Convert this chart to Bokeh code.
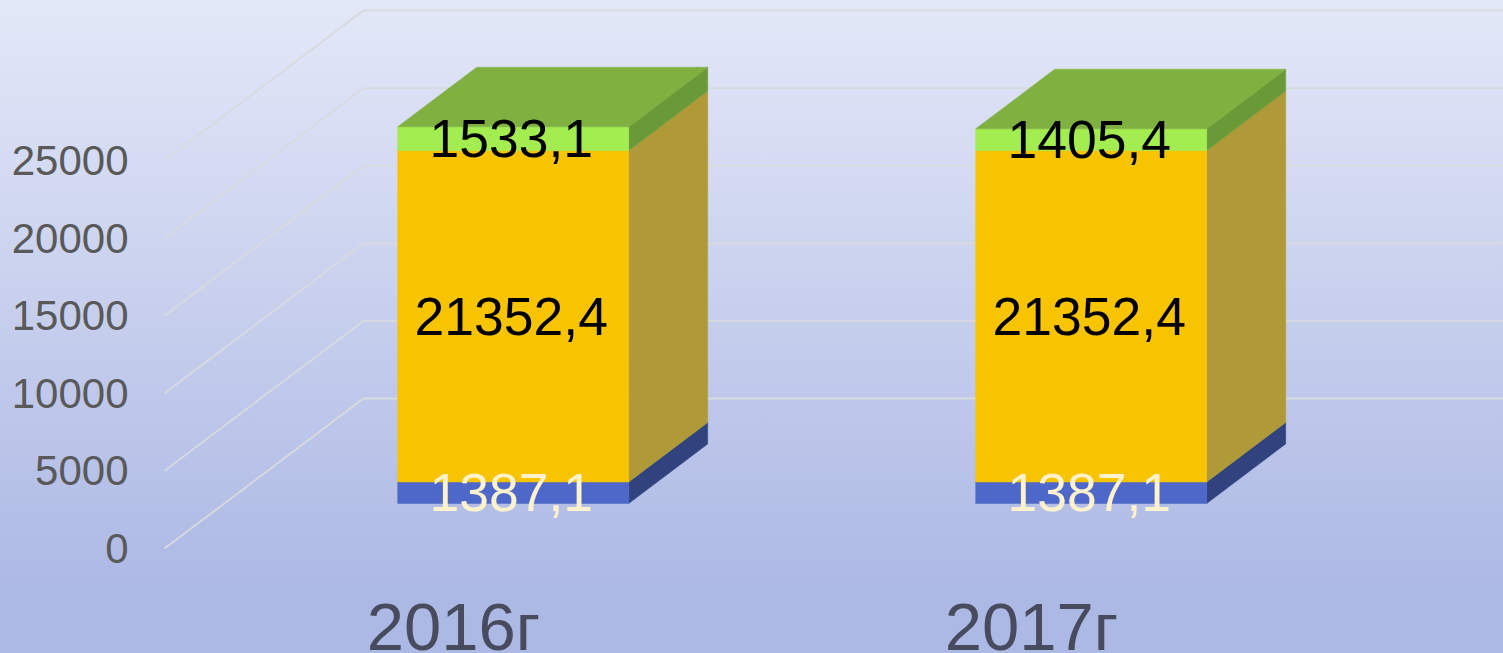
from bokeh.plotting import figure
from bokeh.models import FixedTicker, ColumnDataSource
from bokeh.core.properties import value
from bokeh.embed import file_html
from bokeh.resources import INLINE

categories = ["2016г", "2017г"]
series_blue = [1387.1, 1387.1]
series_yellow = [21352.4, 21352.4]
series_green = [1533.1, 1405.4]
y_ticks = [0, 5000, 10000, 15000, 20000, 25000]

FONT = "Liberation Sans"
W, H = 1503, 653
FRAME_L = 140
Y0_PX, PX_PER_UNIT = 548, 388 / 25000
X0_PX, PX_PER_CAT = 453, 578

# oblique projection of the 3D box, in data units
WALL_DX = 199 / PX_PER_CAT
WALL_DY = 150 / PX_PER_UNIT
D_FRONT, D_BACK = 0.30, 0.697
BAR_W = 231 / PX_PER_CAT

p = figure(
    width=W, height=H, output_backend="svg", toolbar_location=None,
    x_range=((FRAME_L - X0_PX) / PX_PER_CAT, (W - X0_PX) / PX_PER_CAT),
    y_range=((Y0_PX - H) / PX_PER_UNIT, Y0_PX / PX_PER_UNIT),
    x_axis_location=None,
    min_border_left=FRAME_L, min_border_right=0, min_border_top=0, min_border_bottom=0,
    background_fill_color=None, border_fill_color=None, outline_line_color=None,
)
p.grid.visible = False

# walls: left-wall diagonals and back-wall horizontals
gl = "#d9dadf"
for t in y_ticks:
    p.line([-0.5, -0.5 + WALL_DX, 2.5], [t, t + WALL_DY, t + WALL_DY],
           line_color=gl, line_width=1.8, line_join="miter")

yax = p.yaxis[0]
yax.ticker = FixedTicker(ticks=y_ticks)
yax.axis_line_color = None
yax.major_tick_line_color = None
yax.minor_tick_line_color = None
yax.major_label_standoff = 6
yax.major_label_text_font = FONT
yax.major_label_text_font_size = "42px"
yax.major_label_text_color = "#595959"

segments = [
    (series_blue, "#4d68c8", "#30437f", "#fff2cc"),
    (series_yellow, "#f8c400", "#b09a38", "#000000"),
    (series_green, "#a3ed50", "#6a9a38", "#000000"),
]
TOP = "#80b040"

for i, _ in enumerate(categories):
    dy_f, dy_b = D_FRONT * WALL_DY, D_BACK * WALL_DY
    fx, bx = i + D_FRONT * WALL_DX, i + D_BACK * WALL_DX
    base = 0.0
    hw = BAR_W / 2
    for vals, front, side, _c in segments:
        top = base + vals[i]
        # right side face
        p.patch([fx + hw, bx + hw, bx + hw, fx + hw],
                [base + dy_f, base + dy_b, top + dy_b, top + dy_f],
                fill_color=side, line_color=side, line_width=0.5)
        # front face
        p.quad(left=fx - hw, right=fx + hw, bottom=base + dy_f, top=top + dy_f,
               fill_color=front, line_color=front, line_width=0.5)
        base = top
    # top face
    p.patch([fx - hw, fx + hw, bx + hw, bx - hw],
            [base + dy_f, base + dy_f, base + dy_b, base + dy_b],
            fill_color=TOP, line_color=TOP, line_width=0.5)

# data labels
lx, ly, lt, lc = [], [], [], []
for i, _ in enumerate(categories):
    base = D_FRONT * WALL_DY
    for vals, _f, _s, col in segments:
        lx.append(i + D_FRONT * WALL_DX - 2 / PX_PER_CAT)
        ly.append(base + vals[i] / 2)
        lt.append(f"{vals[i]:.1f}".replace(".", ","))
        lc.append(col)
        base += vals[i]
p.text(x="x", y="y", text="t", text_color="c",
       source=ColumnDataSource(dict(x=lx, y=ly, t=lt, c=lc)),
       text_font=value(FONT), text_font_size="53.5px",
       text_align="center", text_baseline="middle")

# category labels below the floor
p.text(x=list(range(len(categories))), y=[-78 / PX_PER_UNIT] * len(categories), text=categories,
       text_color="#484b5e", text_font=value(FONT), text_font_size="67px",
       text_align="center", text_baseline="middle")

html = file_html(p, INLINE)
css = ("<style>html,body{margin:0;padding:0;height:100%;overflow:hidden}"
       "body{background:linear-gradient(180deg,#e3e8f8 0%,#cdd4ef 38%,#adb9e5 90%,#adb9e5 100%) no-repeat}</style>")
html = html.replace("</head>", css + "</head>", 1)
open("out.html", "w").write(html)
